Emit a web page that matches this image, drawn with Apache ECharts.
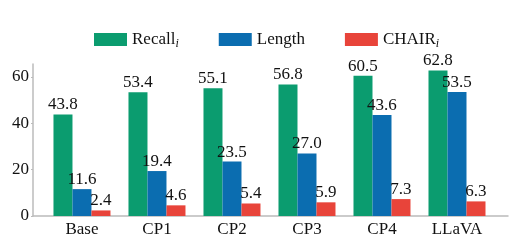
<!DOCTYPE html>
<html><head><meta charset="utf-8">
<script src="https://cdn.jsdelivr.net/npm/echarts@6/dist/echarts.min.js"></script>
<style>html,body{margin:0;padding:0;background:#fff}#c{width:523px;height:249px}</style>
</head><body><div id="c"></div>
<script>
const categories = ['Base','CP1','CP2','CP3','CP4','LLaVA'];
const recall = [43.8,53.4,55.1,56.8,60.5,62.8];
const length = [11.6,19.4,23.5,27.0,43.6,53.5];
const chair = [2.4,4.6,5.4,5.9,7.3,6.3];
const yTicks = [0,20,40,60];
const font = 'Liberation Serif';
const chart = echarts.init(document.getElementById('c'));
function mk(name, vals, color){
  return {name, type:'bar', data: vals.map((v,i)=>[i,v]), barWidth:19, barGap:'0%',
    itemStyle:{color},
    label:{show:true, position:'top', distance:1, color:'#111', fontFamily:font, fontSize:17,
      formatter:p=>p.value[1].toFixed(1)}};
}
chart.setOption({
  animation:false,
  textStyle:{fontFamily:font},
  legend:{top:26, left:89, itemWidth:33, itemHeight:13, itemGap:40, icon:'rect',
    textStyle:{fontFamily:font, fontSize:17, color:'#111',
      rich:{s:{fontFamily:font, fontSize:12, fontStyle:'italic', verticalAlign:'bottom', padding:[8,0,0,0]}, n:{fontFamily:font,fontSize:17}}},
    formatter:n=> n==='Recall' ? '{n|Recall}{s|i}' : n==='CHAIR' ? '{n|CHAIR}{s|i}' : '{n|'+n+'}',
    data:['Recall','Length','CHAIR']},
  grid:{left:33, right:15, top:64, bottom:33},
  xAxis:{type:'value', min:-0.653, max:5.68,
    axisLine:{show:true, onZero:false, lineStyle:{color:'#bbb', width:1.5}}, axisTick:{show:false},
    splitLine:{show:false},
    axisLabel:{fontFamily:font, fontSize:17, color:'#111', margin:5,
      customValues:categories.map((c,i)=>i), formatter:v=>categories[Math.round(v)]}},
  yAxis:{type:'value', min:0, max:65.6, interval:20,
    axisLine:{show:true, onZero:false, lineStyle:{color:'#bbb', width:1.5}},
    axisTick:{show:true, length:2, lineStyle:{color:'#bbb'}, customValues:yTicks},
    splitLine:{show:false},
    axisLabel:{fontFamily:font, fontSize:17, color:'#111', margin:4,
      customValues:yTicks}},
  series:[mk('Recall',recall,'#0b9c6f'), mk('Length',length,'#0b6db0'), mk('CHAIR',chair,'#e8443a')]
});
</script></body></html>
